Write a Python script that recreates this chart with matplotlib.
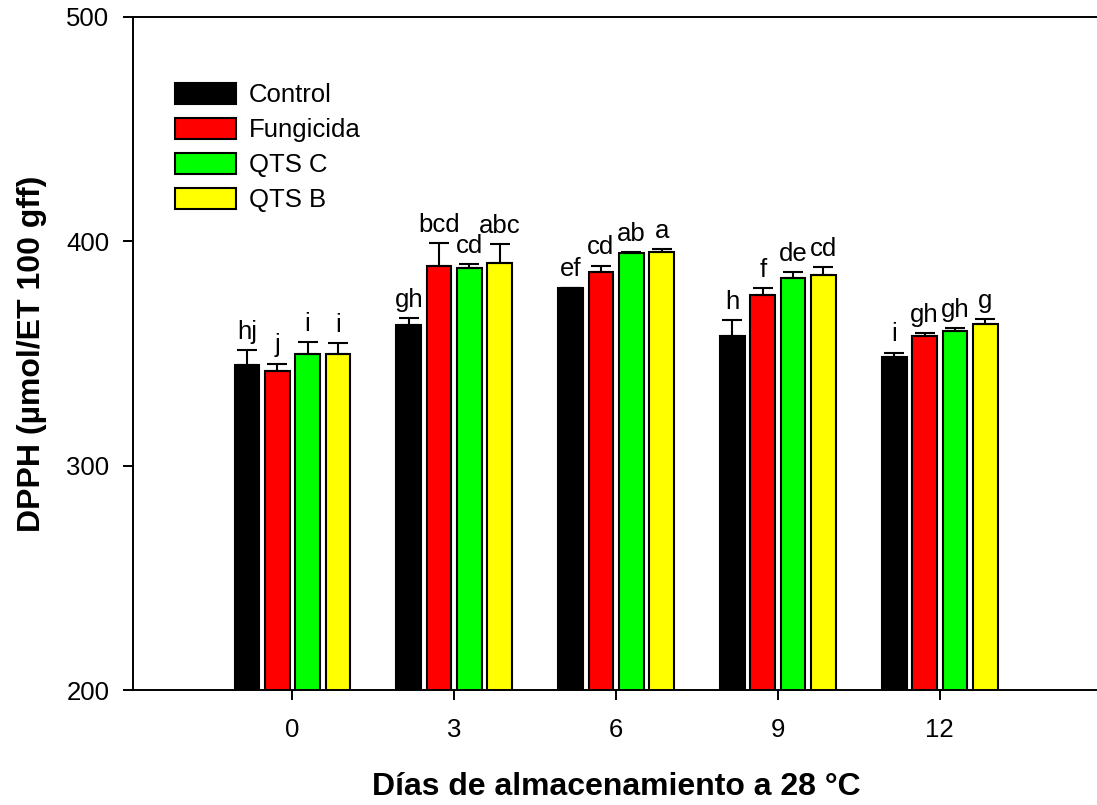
import numpy as np
import matplotlib
matplotlib.use("Agg")
import matplotlib.pyplot as plt

plt.rcParams['font.family'] = ['Liberation Sans', 'DejaVu Sans']

days = ['0', '3', '6', '9', '12']
treatments = ['Control', 'Fungicida', 'QTS C', 'QTS B']
colors = ['#000000', '#ff0000', '#00ff00', '#ffff00']

control = [345.0, 362.7, 379.4, 357.7, 348.5]
fungicida = [342.3, 389.2, 386.5, 376.2, 357.9]
qts_c = [349.8, 387.9, 394.8, 383.7, 360.2]
qts_b = [349.8, 390.3, 395.4, 384.9, 363.3]

control_err = [6.4, 3.0, 0.0, 7.3, 1.9]
fungicida_err = [3.2, 10.0, 2.7, 3.0, 1.1]
qts_c_err = [5.3, 2.1, 0.3, 2.5, 1.0]
qts_b_err = [4.9, 8.5, 1.1, 3.7, 1.9]

control_lbl = ['hj', 'gh', 'ef', 'h', 'i']
fungicida_lbl = ['j', 'bcd', 'cd', 'f', 'gh']
qts_c_lbl = ['i', 'cd', 'ab', 'de', 'gh']
qts_b_lbl = ['i', 'abc', 'a', 'cd', 'g']

values = [control, fungicida, qts_c, qts_b]
errors = [control_err, fungicida_err, qts_c_err, qts_b_err]
letters = [control_lbl, fungicida_lbl, qts_c_lbl, qts_b_lbl]

fig = plt.figure(figsize=(10.97, 8.05), dpi=100)
ax = fig.add_axes([133 / 1097, 115 / 805, 967 / 1097, 673 / 805])

x = np.arange(len(days))
step = 0.1875
width = 0.152
for i, name in enumerate(treatments):
    pos = x + (i - 1.5) * step
    vals = np.array(values[i])
    err = np.array(errors[i])
    ax.bar(pos, vals, width, color=colors[i], edgecolor='black', linewidth=1.5,
           label=name, zorder=2)
    ax.errorbar(pos, vals, yerr=[np.zeros_like(err), err], fmt='none',
                ecolor='black', elinewidth=1.5, capsize=7.5, capthick=1.5, zorder=3)
    for p, v, e, t in zip(pos, vals, err, letters[i]):
        ax.annotate(t, (p, v + e), xytext=(0, 8), textcoords='offset points',
                    ha='center', va='baseline', fontsize=18.5)

ax.set_xlim(-0.985, 4.99)
ax.set_ylim(200, 500)
ax.set_xticks(x)
ax.set_xticklabels(days)
ax.set_yticks([200, 300, 400, 500])
ax.tick_params(axis='both', direction='out', length=7, width=1.4, labelsize=18.5, pad=10)
ax.tick_params(axis='x', pad=13)
for s in ['left', 'bottom', 'top']:
    ax.spines[s].set_linewidth(1.4)
ax.spines['right'].set_visible(False)

ax.set_xlabel('Días de almacenamiento a 28 °C', fontsize=23, fontweight='bold', labelpad=22)
ax.set_ylabel('DPPH (µmol/ET 100 gff)', fontsize=23, fontweight='bold', labelpad=14)

ax.legend(loc='upper left', bbox_to_anchor=(0.043, 0.902), frameon=False, fontsize=18.5,
          handlelength=2.4, handleheight=0.86, handletextpad=0.5, labelspacing=0.42,
          borderpad=0, borderaxespad=0)

fig.savefig('out.png', dpi=100)
